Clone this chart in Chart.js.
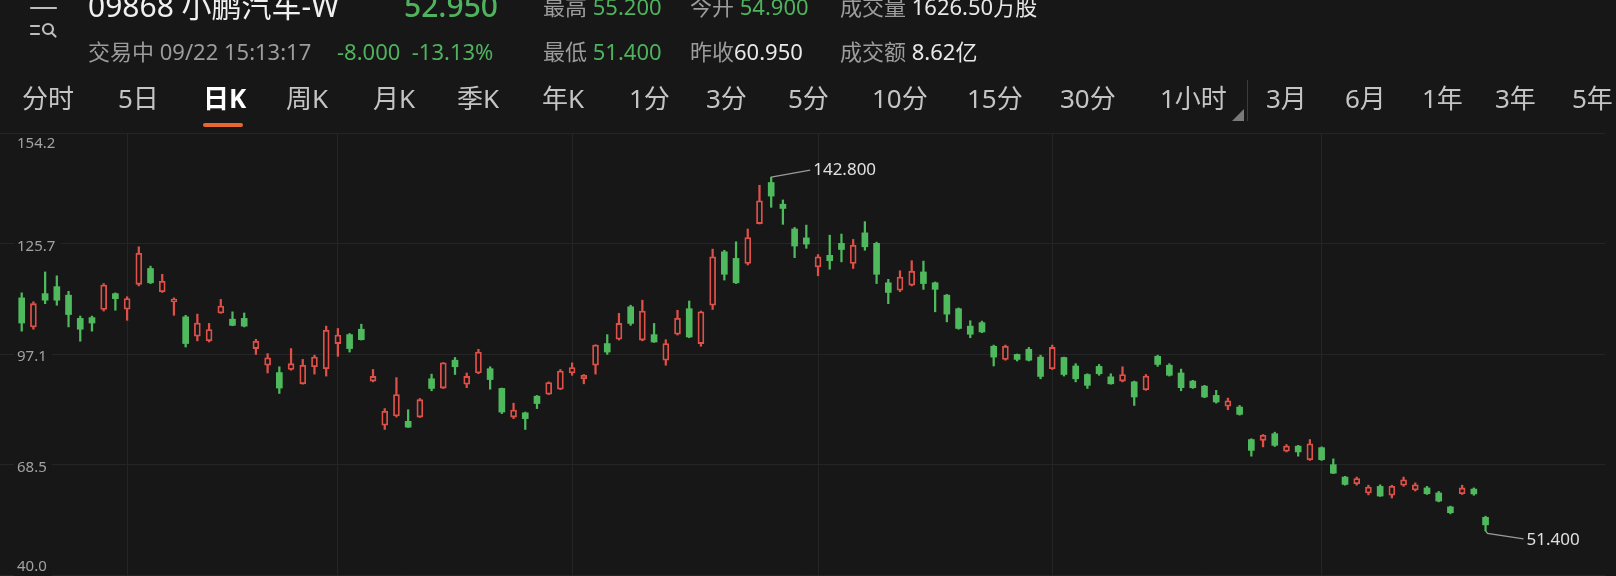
<!DOCTYPE html>
<html lang="zh-CN">
<head>
<meta charset="utf-8">
<title>09868 小鹏汽车-W 日K</title>
<script src="https://cdn.jsdelivr.net/npm/chart.js@4.4.1/dist/chart.umd.min.js"></script>
<style>
    html, body { margin: 0; padding: 0; background: #171717; width: 1616px; height: 576px; overflow: hidden; }
    body { font-family: "Noto Sans", "Noto Sans CJK SC", sans-serif; position: relative; }
    #chartBox { position: absolute; left: 0; top: 0; width: 1616px; height: 576px; }
    .t { position: absolute; white-space: nowrap; line-height: 1; }
    .big { font-size: 30px; }
    .sm { font-size: 22px; }
    .tab { font-size: 26px; color: #c4c4c4; top: 85px; }
    .gray { color: #9c9c9c; }
    .white { color: #e8e8e8; }
    .green { color: #4fb35d; }
</style>
</head>
<body>
<div id="chartBox"><canvas id="kChart" width="1616" height="576"></canvas></div>

<!-- header -->
<svg style="position:absolute;left:0;top:0" width="70" height="45">
    <g stroke="#bdbdbd" stroke-width="2.2" fill="none" stroke-linecap="round">
        <line x1="31" y1="8" x2="56" y2="8"/>
        <line x1="31" y1="26" x2="39" y2="26"/>
        <line x1="31" y1="34" x2="39" y2="34"/>
        <circle cx="48" cy="29" r="5"/>
        <line x1="51.5" y1="32.5" x2="55.5" y2="36.5"/>
    </g>
</svg>
<div class="t big white" style="left:88px;top:-9px;color:#f0f0f0">09868 小鹏汽车-W</div>
<div class="t big green" style="left:404px;top:-9px;font-weight:500">52.950</div>
<div class="t sm gray" style="left:88px;top:40px">交易中 09/22 15:13:17</div>
<div class="t sm green" style="left:337px;top:40px">-8.000&nbsp;&nbsp;-13.13%</div>

<div class="t sm gray" style="left:543px;top:-5px">最高 <span class="green">55.200</span></div>
<div class="t sm gray" style="left:690px;top:-5px">今开 <span class="green">54.900</span></div>
<div class="t sm gray" style="left:840px;top:-5px">成交量 <span class="white">1626.50万股</span></div>
<div class="t sm gray" style="left:543px;top:40px">最低 <span class="green">51.400</span></div>
<div class="t sm gray" style="left:690px;top:40px">昨收<span class="white">60.950</span></div>
<div class="t sm gray" style="left:840px;top:40px">成交额 <span class="white">8.62亿</span></div>

<div class="t tab" style="left:22px">分时</div>
<div class="t tab" style="left:118px">5日</div>
<div class="t tab" style="left:203px;color:#ffffff;font-weight:700">日K</div>
<div style="position:absolute;left:203px;top:123px;width:40px;height:4px;border-radius:2px;background:#e8672f"></div>
<div class="t tab" style="left:286px">周K</div>
<div class="t tab" style="left:373px">月K</div>
<div class="t tab" style="left:457px">季K</div>
<div class="t tab" style="left:542px">年K</div>
<div class="t tab" style="left:629px">1分</div>
<div class="t tab" style="left:706px">3分</div>
<div class="t tab" style="left:788px">5分</div>
<div class="t tab" style="left:872px">10分</div>
<div class="t tab" style="left:967px">15分</div>
<div class="t tab" style="left:1060px">30分</div>
<div class="t tab" style="left:1160px">1小时</div>
<svg style="position:absolute;left:1228px;top:78px" width="24" height="46">
    <polygon points="16,31 16,43 4,43" fill="#7a7a7a"/>
    <line x1="19.5" y1="2" x2="19.5" y2="43" stroke="#3c3c3c" stroke-width="1"/>
</svg>
<div class="t tab" style="left:1266px">3月</div>
<div class="t tab" style="left:1345px">6月</div>
<div class="t tab" style="left:1422px">1年</div>
<div class="t tab" style="left:1495px">3年</div>
<div class="t tab" style="left:1572px">5年</div>

<script>
// --- DATA (daily candles, HKEX 09868) ---
const dates = [
    '03/21','03/22','03/23','03/24','03/25','03/28','03/29','03/30','03/31',
    '04/01','04/04','04/06','04/07','04/08','04/11','04/12','04/13','04/14','04/19','04/20','04/21','04/22','04/25','04/26','04/27','04/28','04/29',
    '05/03','05/04','05/05','05/06','05/10','05/11','05/12','05/13','05/16','05/17','05/18','05/19','05/20','05/23','05/24','05/25','05/26','05/27','05/30','05/31',
    '06/01','06/02','06/06','06/07','06/08','06/09','06/10','06/13','06/14','06/15','06/16','06/17','06/20','06/21','06/22','06/23','06/24','06/27','06/28','06/29','06/30',
    '07/04','07/05','07/06','07/07','07/08','07/11','07/12','07/13','07/14','07/15','07/18','07/19','07/20','07/21','07/22','07/25','07/26','07/27','07/28','07/29',
    '08/01','08/02','08/03','08/04','08/05','08/08','08/09','08/10','08/11','08/12','08/15','08/16','08/17','08/18','08/19','08/22','08/23','08/24','08/25','08/26','08/29','08/30','08/31',
    '09/01','09/02','09/05','09/06','09/07','09/08','09/09','09/13','09/14','09/15','09/16','09/19','09/20','09/21','09/22'
];

const opens = [
    111.6, 104.1, 112.7, 114.5, 112.3, 106.3, 106.5, 108.6, 112.7, 108.7,
    115.1, 119.2, 113.2, 110.6, 106.7, 101.7, 100.5, 107.7, 106.1, 106.3,
    98.5, 94.2, 92.3, 93.1, 89.4, 93.8, 93.3, 99.8, 102.1, 103.5,
    90.1, 78.7, 81.1, 79.7, 80.8, 90.7, 88.3, 95.5, 89.3, 92.2,
    93.3, 88.2, 80.8, 81.9, 86.2, 86.7, 88.0, 92.2, 90.7, 94.2,
    99.8, 100.9, 109.3, 100.7, 102.1, 95.5, 102.2, 108.8, 99.8, 109.7,
    123.5, 121.8, 120.5, 130.8, 141.4, 135.8, 129.4, 127.1, 119.6, 122.6,
    125.7, 120.5, 128.4, 125.7, 115.5, 113.6, 114.9, 118.3, 115.5, 112.3,
    108.8, 104.3, 105.2, 99.1, 95.7, 97.0, 98.3, 96.3, 93.3, 96.2,
    94.0, 91.8, 93.9, 91.2, 90.1, 89.9, 87.9, 96.5, 94.2, 92.2,
    90.1, 88.8, 86.4, 83.6, 83.4, 75.0, 74.8, 76.5, 72.0, 73.3,
    69.8, 72.9, 68.5, 65.3, 63.6, 61.2, 62.9, 60.6, 63.2, 62.0,
    62.5, 61.2, 57.6, 61.0, 62.2, 54.9
];
const highs = [
    112.9, 110.6, 118.3, 117.3, 113.3, 106.9, 106.9, 115.3, 112.9, 111.9,
    124.8, 119.8, 117.7, 111.6, 107.1, 107.4, 105.0, 111.2, 108.0, 107.7,
    100.9, 97.2, 93.8, 98.5, 95.7, 96.8, 104.3, 103.7, 102.4, 104.8,
    93.1, 83.0, 91.0, 82.7, 85.6, 91.9, 94.9, 96.2, 92.2, 98.3,
    93.8, 88.3, 84.4, 82.1, 86.4, 89.9, 93.1, 94.8, 91.8, 99.5,
    102.1, 107.6, 109.7, 111.0, 105.0, 100.8, 108.4, 110.8, 108.2, 124.2,
    123.9, 126.1, 129.4, 140.7, 142.8, 136.9, 129.8, 130.4, 122.8, 127.8,
    128.1, 126.7, 131.3, 126.0, 116.4, 118.6, 121.2, 121.1, 115.7, 112.5,
    109.0, 105.7, 105.6, 99.4, 99.4, 97.1, 98.8, 96.8, 99.4, 96.3,
    94.6, 92.0, 94.4, 92.0, 93.8, 90.1, 91.8, 96.8, 94.6, 93.2,
    90.3, 89.0, 87.7, 85.7, 83.8, 75.2, 76.3, 76.9, 73.7, 73.5,
    75.0, 73.1, 70.0, 65.5, 65.3, 63.2, 63.3, 63.2, 65.3, 63.8,
    62.9, 61.6, 57.8, 63.2, 62.5, 55.2
];
const lows = [
    103.0, 103.5, 110.1, 109.7, 104.1, 100.4, 103.0, 108.2, 108.4, 105.8,
    114.7, 115.3, 113.0, 107.1, 98.9, 100.5, 100.2, 107.6, 104.4, 104.1,
    97.0, 92.2, 86.9, 92.9, 89.3, 91.9, 91.4, 96.5, 97.6, 100.7,
    89.9, 77.6, 80.8, 78.1, 80.7, 87.6, 88.2, 91.8, 88.4, 92.0,
    88.0, 81.7, 80.4, 77.6, 83.0, 86.6, 87.9, 91.6, 89.4, 91.9,
    97.0, 100.7, 104.5, 100.5, 100.1, 94.2, 102.0, 101.3, 99.1, 108.6,
    116.2, 115.3, 120.1, 130.7, 135.0, 130.6, 122.0, 124.4, 117.3, 119.0,
    120.9, 119.2, 123.9, 115.3, 110.1, 113.2, 114.7, 113.8, 108.0, 105.4,
    103.5, 101.3, 102.6, 94.0, 95.5, 95.3, 95.3, 90.7, 93.1, 91.4,
    89.9, 88.2, 91.6, 89.3, 89.9, 83.8, 87.7, 93.9, 91.4, 87.6,
    88.2, 85.8, 84.4, 82.7, 81.3, 70.7, 73.1, 73.2, 71.8, 70.7,
    69.6, 69.6, 66.2, 63.2, 63.2, 60.7, 60.3, 59.9, 62.9, 61.7,
    60.8, 58.9, 55.8, 60.8, 60.6, 51.4
];
const closes = [
    105.1, 110.1, 111.0, 111.0, 107.3, 103.5, 105.1, 114.9, 111.4, 111.4,
    123.1, 115.5, 115.9, 111.3, 99.8, 105.1, 103.4, 109.5, 104.5, 104.3,
    100.4, 96.1, 88.3, 94.6, 94.2, 96.3, 103.2, 102.0, 98.5, 100.8,
    91.3, 82.3, 86.6, 78.2, 85.3, 88.2, 94.8, 93.8, 91.3, 97.6,
    90.5, 82.1, 82.6, 80.4, 84.3, 89.7, 92.7, 93.6, 91.6, 99.4,
    97.6, 105.0, 105.0, 108.2, 100.2, 99.8, 106.3, 101.5, 108.0, 122.2,
    117.7, 115.5, 127.2, 136.7, 137.9, 134.7, 125.0, 125.5, 122.2, 121.2,
    124.1, 125.2, 124.8, 117.7, 113.0, 117.0, 118.5, 115.3, 113.8, 107.4,
    103.7, 102.2, 102.8, 96.3, 99.1, 95.7, 95.5, 91.3, 98.8, 91.8,
    90.7, 89.0, 92.0, 89.4, 91.8, 86.0, 91.4, 94.4, 91.6, 88.4,
    88.4, 86.0, 84.7, 85.0, 81.5, 72.2, 76.1, 73.5, 73.3, 71.8,
    73.9, 69.8, 66.3, 63.4, 64.9, 62.7, 60.4, 62.9, 64.6, 63.3,
    61.0, 59.1, 56.1, 62.5, 60.95, 52.95
];

// y axis tick labels
const yTicks = [40.0, 68.5, 97.1, 125.7, 154.2];

// Colors (HK convention: red up hollow, green down filled)
const BG = '#171717';
const UP = '#de5048';
const DOWN = '#4fba5d';
const GRID = '#252525';

// month boundaries -> vertical grid lines
const monthStarts = dates
    .map((d, i) => (i > 0 && d.slice(0, 2) !== dates[i - 1].slice(0, 2)) ? i : -1)
    .filter(i => i >= 0);

const isUp = i => closes[i] >= opens[i];

// --- 1. Y LABELS + HIGH/LOW MARKERS ---
const overlayPlugin = {
    id: 'overlay',
    afterDraw(chart) {
        const { ctx, chartArea } = chart;
        const xs = chart.scales.x;
        const ys = chart.scales.y;

        ctx.save();
        ctx.font = '15px "Noto Sans", sans-serif';
        ctx.textBaseline = 'middle';
        ctx.textAlign = 'left';
        yTicks.forEach(v => {
            let py = ys.getPixelForValue(v) + 3;
            py = Math.max(chartArea.top + 11, Math.min(chartArea.bottom - 8, py));
            const label = v.toFixed(1);
            const w = ctx.measureText(label).width;
            ctx.fillStyle = BG;
            ctx.fillRect(14, py - 9, w + 8, 18);
            ctx.fillStyle = '#a2a2a2';
            ctx.fillText(label, 17, py);
        });

        // highest high / lowest low
        let hi = 0, lo = 0;
        highs.forEach((h, i) => { if (h > highs[hi]) hi = i; });
        lows.forEach((l, i) => { if (l < lows[lo]) lo = i; });

        ctx.strokeStyle = '#9a9a9a';
        ctx.lineWidth = 1.3;
        ctx.fillStyle = '#e0e0e0';
        ctx.font = '17px "Noto Sans", sans-serif';

        const hx = xs.getPixelForValue(hi), hy = ys.getPixelForValue(highs[hi]);
        ctx.beginPath();
        ctx.moveTo(hx, hy);
        ctx.lineTo(hx + 39, hy - 7);
        ctx.stroke();
        ctx.fillText(highs[hi].toFixed(3), hx + 42, hy - 7);

        const lx = xs.getPixelForValue(lo), ly = ys.getPixelForValue(lows[lo]);
        ctx.beginPath();
        ctx.moveTo(lx, ly);
        ctx.lineTo(lx + 2, ly + 2.5);
        ctx.lineTo(lx + 38, ly + 8);
        ctx.stroke();
        ctx.fillText(lows[lo].toFixed(3), lx + 41, ly + 9);
        ctx.restore();
    }
};

// --- 2. CANDLE CHART ---
function renderChart() {
    const canvas = document.getElementById('kChart');

    new Chart(canvas, {
        type: 'bar',
        data: {
            labels: dates,
            datasets: [
                {
                    label: 'wick',
                    data: dates.map((d, i) => ({ x: i, y: [lows[i], highs[i]] })),
                    backgroundColor: c => isUp(c.dataIndex) ? UP : DOWN,
                    barThickness: 1.6,
                    grouped: false,
                    order: 2
                },
                {
                    label: 'body',
                    data: dates.map((d, i) => ({ x: i, y: [opens[i], closes[i]] })),
                    backgroundColor: c => isUp(c.dataIndex) ? BG : DOWN,
                    borderColor: c => isUp(c.dataIndex) ? UP : DOWN,
                    borderWidth: c => isUp(c.dataIndex) ? 1.8 : 0,
                    borderSkipped: false,
                    barThickness: 6,
                    minBarLength: 2,
                    grouped: false,
                    order: 1
                }
            ]
        },
        options: {
            responsive: false,
            animation: false,
            layout: { padding: { top: 133, bottom: 1, left: 0, right: 11 } },
            plugins: {
                legend: { display: false },
                tooltip: { enabled: false }
            },
            scales: {
                x: {
                    type: 'linear',
                    offset: false,
                    min: -1.853,
                    max: 135.2,
                    ticks: { display: false },
                    grid: { color: GRID, drawTicks: false, offset: false },
                    border: { display: false },
                    afterBuildTicks: s => { s.ticks = monthStarts.map(v => ({ value: v })); }
                },
                y: {
                    min: 40,
                    max: 154.2,
                    ticks: { display: false },
                    grid: { color: GRID, drawTicks: false },
                    border: { display: false },
                    afterBuildTicks: s => { s.ticks = yTicks.map(v => ({ value: v })); }
                }
            }
        },
        plugins: [overlayPlugin]
    });
}

renderChart();
</script>
</body>
</html>
